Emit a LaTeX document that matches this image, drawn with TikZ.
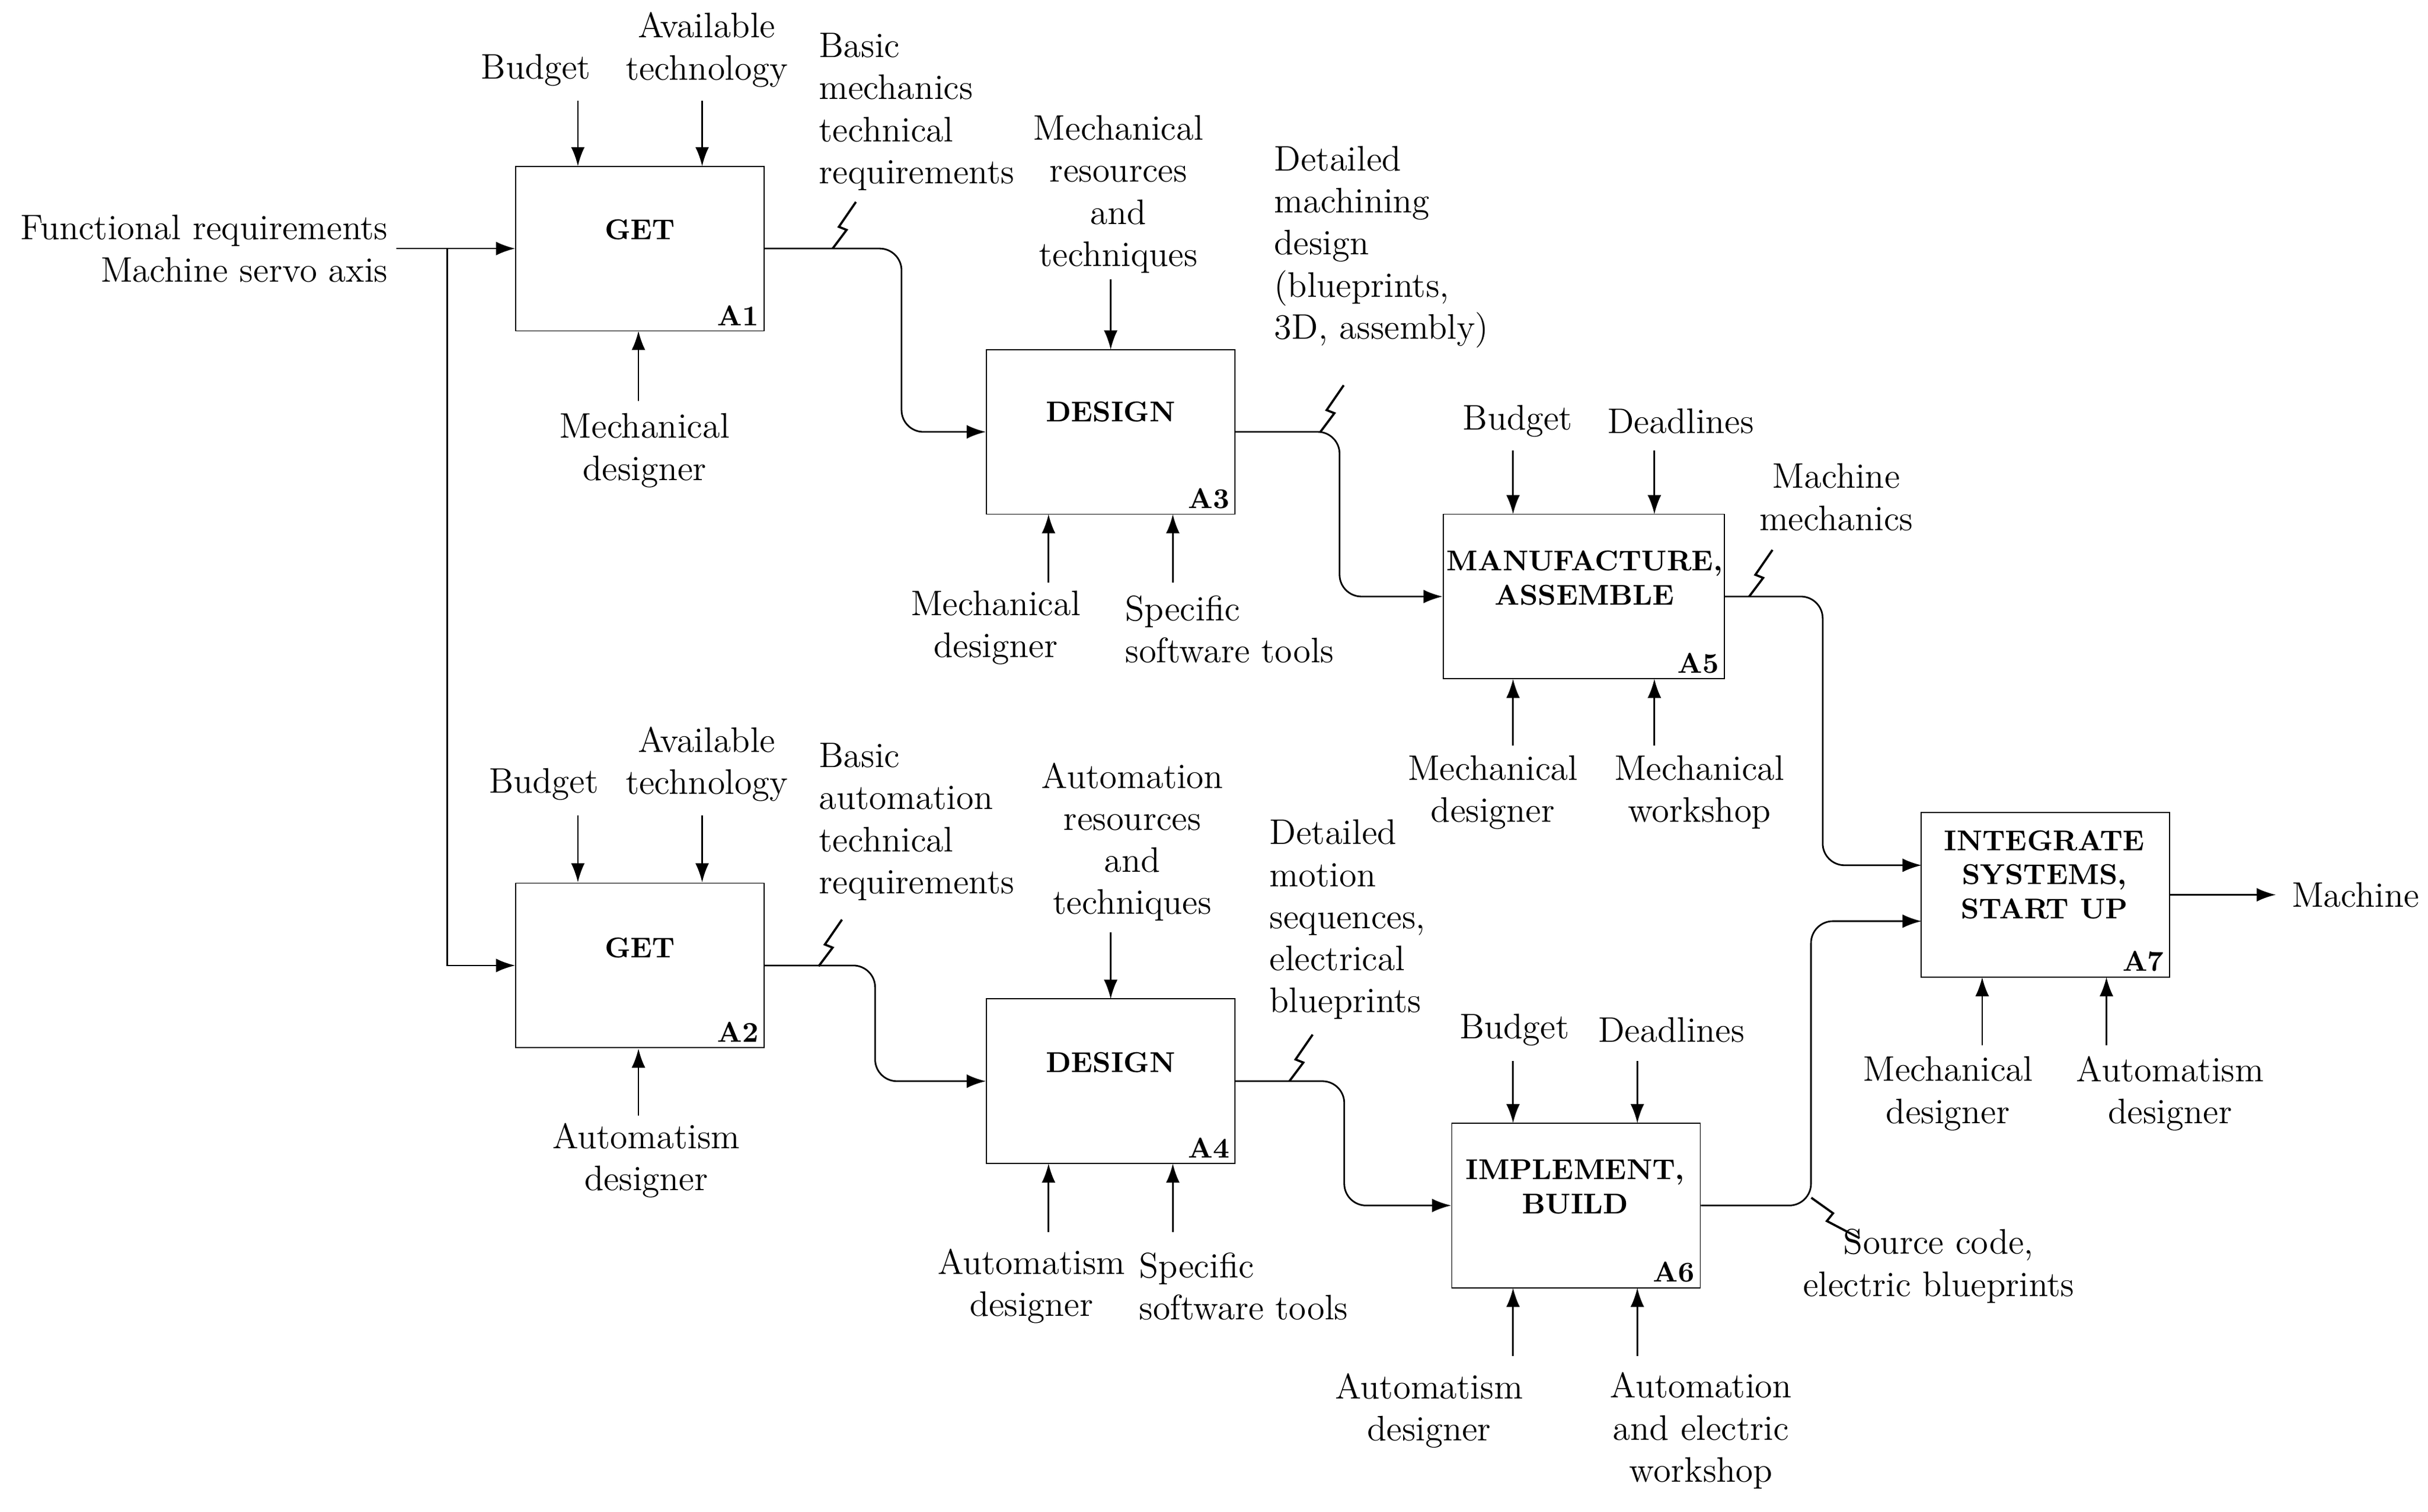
\documentclass[tikz,border=0pt]{standalone}
\usepackage{tikz}
\usetikzlibrary{arrows.meta, positioning}
\tikzset{
  box/.style={draw, minimum width=3.2cm, minimum height=2.12cm, inner sep=0pt},
  bigbox/.style={box, minimum width=3.62cm},
  title/.style={font=\fontsize{10.5}{12.5}\selectfont\bfseries, align=center},
  ident/.style={font=\fontsize{10.5}{12}\selectfont\bfseries, inner sep=2pt},
  lbl/.style={font=\fontsize{13}{15.4}\selectfont, align=center, inner sep=0pt},
  lbll/.style={lbl, align=left, anchor=west},
  arr/.style={-{Latex[length=7pt,width=5pt]}, semithick},
  flow/.style={arr, rounded corners=8pt},
}
\newcommand{\zig}[2]{\draw[thick] (#1,#2) -- ++(9,-12) -- ++(-5,-2) -- ++(11,-16);}
\begin{document}
\begin{tikzpicture}[x=0.02cm, y=-0.02cm]
\useasboundingbox (0,0) rectangle (1563,973);
% activity boxes
\node[box] (a1) at (412,160) {};
\node[box] (a3) at (715,278) {};
\node[bigbox] (a5) at (1019.5,384) {};
\node[box] (a2) at (412,621.5) {};
\node[box] (a4) at (715,696) {};
\node[box] (a6) at (1014.5,776) {};
\node[box] (a7) at (1316.5,576) {};
\foreach \n in {1,...,7} \node[ident, anchor=south east] at (a\n.south east) {A\n};
\node[title] at (412,148) {GET};
\node[title] at (412,610) {GET};
\node[title] at (715,265) {DESIGN};
\node[title] at (715,684) {DESIGN};
\node[title] at (1020,372) {MANUFACTURE,\\ASSEMBLE};
\node[title] at (1014,764) {IMPLEMENT,\\BUILD};
\node[title] at (1316,563) {INTEGRATE\\SYSTEMS,\\START UP};

% inputs and outputs
\node[lbl, align=right, anchor=east] (inp) at (250,160) {Functional requirements\\Machine servo axis};
\coordinate (in) at (255,160);
\coordinate (split) at (288,160);
\coordinate (a7in1) at (1237,557);
\coordinate (a7in2) at (1237,593);
\coordinate (out) at (1465,576);
\node[lbll] (mach) at (1475,576) {Machine};
\draw[arr] (in) -- (a1.west);
\draw[arr] (split) |- (a2.west);
\draw[arr] (a7.east) -- (out);

% flows between activities
\draw[flow] (a1.east) -- ++(88,0) |- (a3.west);
\draw[flow] (a3.east) -- ++(67,0) |- (a5.west);
\draw[flow] (a5.east) -- ++(63,0) |- (a7in1);
\draw[flow] (a2.east) -- ++(71,0) |- (a4.west);
\draw[flow] (a4.east) -- ++(70,0) |- (a6.west);
\draw[flow] (a6.east) -- ++(71,0) |- (a7in2);
\zig{536}{160}
\zig{850}{278}
\zig{1126}{384}
\zig{527}{622}
\zig{830}{696}
\draw[thick] (1166,771) -- (1180,781) -- (1176,786) -- (1197,797);

% controls and mechanisms
\foreach \x/\ya/\yb in {372/65/107, 452/65/107, 411/258/213,
    715/180/225, 675/375/331, 755/375/331,
    974/290/331, 1065/290/331, 974/480/437, 1065/480/437,
    372/525/568, 452/525/568, 411/718/675,
    715/600/643, 675/793/749, 755/793/749,
    974/683/723, 1054/683/723, 974/873/829, 1054/873/829,
    1276/673/629, 1356/673/629}
  \draw[arr] (\x,\ya) -- (\x,\yb);

% labels
\node[lbl] at (345,45) {Budget};
\node[lbl] at (455,32) {Available\\technology};
\node[lbl] at (415,290) {Mechanical\\designer};
\node[lbll] at (527,72) {Basic\\mechanics\\technical\\requirements};
\node[lbl] at (720,125) {Mechanical\\resources\\and\\techniques};
\node[lbll] at (820,159) {Detailed\\machining\\design\\(blueprints,\\3D, assembly)};
\node[lbl] at (641,404) {Mechanical\\designer};
\node[lbll] at (724,405) {Specific\\software tools};
\node[lbl] at (977,271) {Budget};
\node[lbl] at (1082,271) {Deadlines};
\node[lbl] at (1182,320) {Machine\\mechanics};
\node[lbl] at (961,510) {Mechanical\\designer};
\node[lbl] at (1094,510) {Mechanical\\workshop};
\node[lbl] at (350,505) {Budget};
\node[lbl] at (455,492) {Available\\technology};
\node[lbl] at (416,747) {Automatism\\designer};
\node[lbll] at (527,529) {Basic\\automation\\technical\\requirements};
\node[lbl] at (729,542) {Automation\\resources\\and\\techniques};
\node[lbll] at (817,592) {Detailed\\motion\\sequences,\\electrical\\blueprints};
\node[lbl] at (664,828) {Automatism\\designer};
\node[lbll] at (733,828) {Specific\\software tools};
\node[lbl] at (975,663) {Budget};
\node[lbl] at (1076,663) {Deadlines};
\node[lbl] at (920,908) {Automatism\\designer};
\node[lbl] at (1095,921) {Automation\\and electric\\workshop};
\node[lbl] at (1248,815) {Source code,\\electric blueprints};
\node[lbl] at (1254,704) {Mechanical\\designer};
\node[lbl] at (1397,704) {Automatism\\designer};
\end{tikzpicture}
\end{document}
